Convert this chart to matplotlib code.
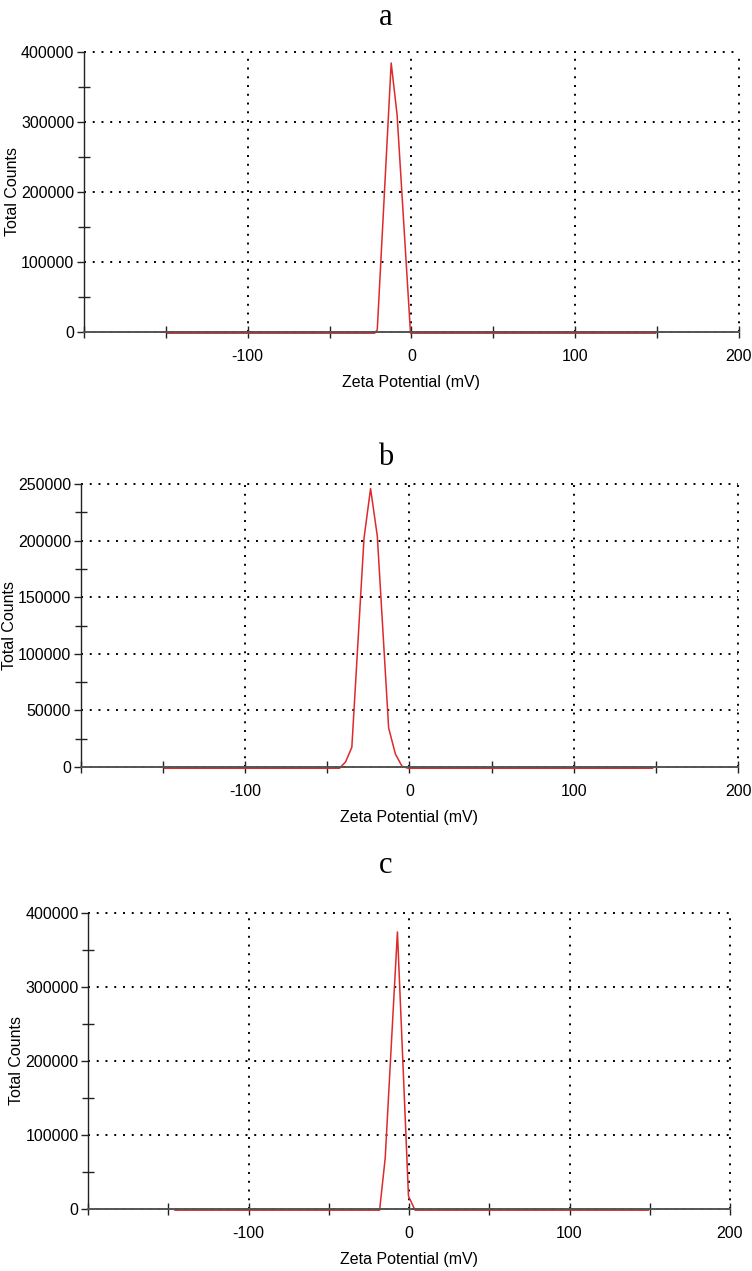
import matplotlib.pyplot as plt
from matplotlib.ticker import MultipleLocator
from matplotlib.transforms import offset_copy

plt.rcParams['font.family'] = ['Liberation Sans', 'DejaVu Sans']
plt.rcParams['axes.unicode_minus'] = False

# zeta potential distributions
x_a = [-149, -22.5, -20.9, -12.4, -8.8, -0.6, 149]
y_a = [0, 0, 5000, 386000, 312000, 0, 0]

x_b = [-149, -42.5, -38.8, -35.0, -27.6, -23.6, -19.5, -12.6, -8.5, -4.5, -0.8, 148]
y_b = [0, 0, 5600, 18500, 203000, 247000, 205000, 35600, 12600, 1800, 0, 0]

x_c = [-146, -18.4, -14.9, -7.3, -0.4, 3.7, 149]
y_c = [0, 0, 70700, 376000, 19000, 0, 0]

panels = [
    ('a', x_a, y_a, 400000, 100000, [0.1117, 0.7388, 0.8710, 0.2203]),
    ('b', x_b, y_b, 250000, 50000, [0.1073, 0.3965, 0.8741, 0.2227]),
    ('c', x_c, y_c, 400000, 100000, [0.1174, 0.0488, 0.8533, 0.2329]),
]
title_y = [0.986, 0.640, 0.319]
ylab_x = [0.016, 0.012, 0.022]

fig = plt.figure(figsize=(7.52, 12.71), dpi=100)
for i, (name, xs, ys, ymax, ystep, rect) in enumerate(panels):
    ax = fig.add_axes(rect)
    # nudge the trace a pixel down so it peeks out under the grey zero line
    tr = offset_copy(ax.transData, fig=fig, y=-1.2, units='dots')
    ax.plot(xs, ys, color='#dd2a2a', lw=1.1, zorder=2, clip_on=False,
            transform=tr)
    ax.set_xlim(-200, 200)
    ax.set_ylim(0, ymax)
    ax.set_xticks([-100, 0, 100, 200])
    ax.xaxis.set_minor_locator(MultipleLocator(50))
    ax.yaxis.set_major_locator(MultipleLocator(ystep))
    ax.yaxis.set_minor_locator(MultipleLocator(ystep / 2))
    ax.grid(which='major', color='black', linestyle=(0, (1, 3.5)), lw=1.4)
    for gl in ax.get_xgridlines() + ax.get_ygridlines():
        gl.set_clip_on(False)
    for s in ['top', 'right']:
        ax.spines[s].set_visible(False)
    ax.spines['bottom'].set_color('#555555')
    ax.spines['bottom'].set_linewidth(1.4)
    ax.spines['bottom'].set_zorder(3)
    ax.spines['left'].set_color('#222222')
    ax.spines['left'].set_linewidth(1.0)
    ax.tick_params(axis='x', which='both', direction='inout', length=8, width=1,
                   color='#222222', labelsize=11.5, pad=8)
    ax.tick_params(axis='y', which='major', direction='out', length=5, width=1,
                   color='#222222', labelsize=11.5, pad=2)
    ax.tick_params(axis='y', which='minor', direction='inout', length=9, width=1,
                   color='#222222')
    ax.set_xlabel('Zeta Potential (mV)', fontsize=11.5, labelpad=8)
    fig.text(ylab_x[i], rect[1] + rect[3] / 2, 'Total Counts', rotation=90,
             fontsize=11.5, ha='center', va='center')
    fig.text(0.513, title_y[i], name, fontsize=22, ha='center', va='center',
             family=['Liberation Serif', 'DejaVu Serif'])

fig.savefig('out.png', dpi=100)
